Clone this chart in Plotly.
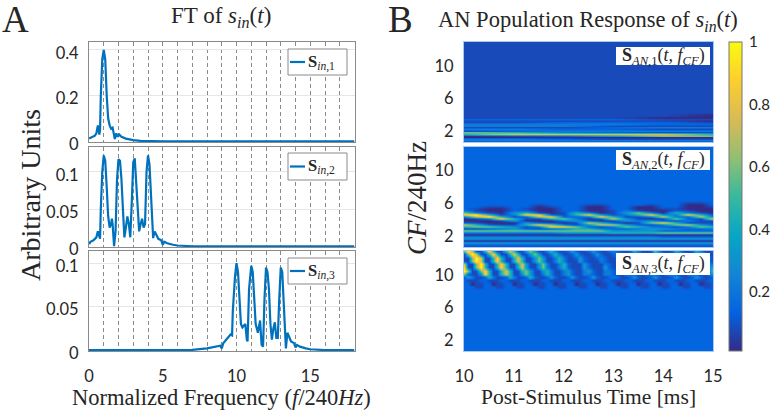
import plotly.graph_objects as go

W, H = 772, 410
SERIF = "Liberation Serif"
SANS = "Lato"
LINE = "#0072BD"
INK = "#262626"

# ---- Panel A spectra ----
S1_X = [0,.2,.4,.5,.6,.7,.75,.8,.9,1,1.1,1.2,1.3,1.4,1.5,1.6,1.7,1.75,1.85,1.95,2.05,2.2,2.5,3,3.5,4,5,18]
S1_Y = [.012,.02,.025,.035,.07,.03,.05,.2,.36,.4,.36,.2,.1,.07,.055,.06,.03,.01,.035,.02,.03,.02,.012,.005,.002,.001,0,0]
S2_X = [0,.1,.3,.5,.6,.7,.75,.8,.9,1,1.1,1.2,1.3,1.4,1.5,1.55,1.6,1.7,1.8,1.9,2,2.1,2.2,2.3,2.4,2.5,2.6,2.7,2.8,2.9,3,3.1,3.2,3.3,3.4,3.5,3.6,3.7,3.8,3.9,4,4.1,4.2,4.3,4.35,4.45,4.55,4.7,4.9,5,5.1,5.3,5.7,6,7,18]
S2_Y = [.003,.006,.008,.012,.02,.012,.01,.05,.1,.122,.115,.08,.04,.025,.03,.037,.03,0,.02,.09,.117,.115,.09,.05,.012,.025,.04,.03,.012,.06,.113,.118,.09,.05,.02,.03,.037,.025,.03,.1,.122,.11,.07,.025,.011,.02,.015,.01,.008,.002,.006,.004,.002,.001,0,0]
S3_X = [0,6,7,8,8.5,8.9,9,9.1,9.3,9.5,9.6,9.7,9.75,9.9,10,10.1,10.2,10.3,10.4,10.5,10.6,10.7,10.75,10.85,11,11.1,11.2,11.3,11.45,11.55,11.6,11.7,11.8,11.9,12,12.1,12.2,12.3,12.4,12.5,12.6,12.7,12.8,12.9,13,13.1,13.2,13.3,13.35,13.45,13.55,13.7,13.9,14,14.1,14.3,14.7,15,16,18]
S3_Y = [0,0,.0003,.002,.004,.005,.002,.008,.012,.016,.018,.017,.045,.085,.1,.09,.06,.03,.026,.028,.03,.012,.01,.07,.097,.09,.06,.03,.02,.03,.034,.006,.004,.06,.095,.09,.07,.03,.012,.025,.032,.014,.014,.06,.095,.09,.05,.01,.002,.02,.015,.01,.008,.003,.006,.004,.002,.001,0,0]

# ---- Panel B response maps, one digit per cell, decoded through LEVELS ----
LEVELS = [.01, .08, .14, .22, .32, .45, .6, .75, .88, 1.0]
AN_T6 = [10, 11, 12, 13, 14, 15]
AN1_CF = [.5,.7,.9,1.1,1.3,1.5,1.7,1.9,2.1,2.3,2.5,2.7,2.9,3.1,3.3,3.5,3.8,4.2,4.6,5,5.5,6,6.5,7.5,9,13]
AN1_ROWS = ["111111","333333","332111","000000","012466","577775","653211","123333",
            "332211","111233","333111","333322","112221","111110","222211","111100",
            "111110","111111","111111","111111","111111","111111","111111","111111","111111","111111"]
AN_T21 = [10+.25*i for i in range(21)]
AN2_CF = [.5+.25*i for i in range(25)] + [7.5,9,11,13]
AN2_COLS = ["1240430361572003863222222","1240430361651017931122222","1240430362620039510012222",
            "1240430363510185100012222","1240430364410451342222222","1240430362154012852122222",
            "1240430361382017810001222","1240430362861058200012222","1240430463830362112222222",
            "1240430465611432552222222","1240430465247203830001222","1240430463175028400001222",
            "1240430542372175111222222","1240430542640441343222222","1240430543521311561002222",
            "1240430544316403830001222","1240420624238217400122222","1240420623165163352122222",
            "1240420622371322831000122","1240420622641117510000122","1240420623521183100012222"]
AN3_T = [10+i/12 for i in range(61)]
AN3_CF = [.5,7,7.6,8,8.4,8.8,9.2,9.6,10,10.4,10.8,11.2,11.6,12,12.4,12.8]
AN3_ROWS = [  # top to bottom
 "69711 58511 57511 46411 35311 24211 24211 23211 25311 26311 25311 25311 2",
 "16971 15851 15751 14641 13531 12421 12421 12321 12421 13531 13531 13531 1",
 "11697 11585 11575 11464 11353 11242 11232 11232 11232 11232 11232 11232 1",
 "11697 11585 11575 11464 11353 11142 11132 11132 11232 11232 11232 11232 1",
 "71169 51158 51157 41146 31135 21114 21113 21113 21113 21113 21113 21113 3",
 "81169 51158 51157 41146 31135 21114 21114 21113 21113 21113 21113 21113 5",
 "96116 85115 75115 64114 53113 42113 42113 32113 32113 32113 32113 32113 6",
 "62114 85115 75114 64113 53113 42113 32113 32113 32113 32113 32113 32113 4",
 "24311 25311 25311 25211 24211 24211 24211 23211 24211 24211 24211 24211 2",
 "21112 21112 21112 21112 21112 21112 21112 21112 21112 21112 21112 21112 2",
 "22011 22011 22011 22011 22011 22011 22011 22011 22011 22011 22011 22011 2",
 "22211 22211 22211 22211 22211 22211 22211 22211 22211 22211 22211 22211 2",
 "22222 22222 22222 22222 22222 22222 22222 22222 22222 22222 22222 22222 2",
 "22222 22222 22222 22222 22222 22222 22222 22222 22222 22222 22222 22222 2",
]
LEG_A = ["<b>S</b><sub><i>in</i>,1</sub>", "<b>S</b><sub><i>in</i>,2</sub>", "<b>S</b><sub><i>in</i>,3</sub>"]
LAB_B = ["<b>S</b><sub><i>AN</i>,1</sub>(<i>t, f</i><sub><i>CF</i></sub>)",
         "<b>S</b><sub><i>AN</i>,2</sub>(<i>t, f</i><sub><i>CF</i></sub>)",
         "<b>S</b><sub><i>AN</i>,3</sub>(<i>t, f</i><sub><i>CF</i></sub>)"]
PARULA = [[0,"#352a87"],[.125,"#0363e1"],[.25,"#1485d4"],[.375,"#06a7c6"],[.5,"#38b99e"],
          [.625,"#92bf73"],[.75,"#d9ba56"],[.875,"#fcce2e"],[1,"#f9fb0e"]]

def dec(s):
    return [LEVELS[int(c)] for c in s.replace(" ", "")]

def px(x): return x / W
def py(y): return 1 - y / H

z1 = [dec(r) for r in AN1_ROWS]
cols2 = [dec(c.ljust(len(AN2_CF), "2")) for c in AN2_COLS]
z2 = [list(r) for r in zip(*cols2)]
z3 = [dec("2"*61), dec("2"*61)] + [dec(r) for r in AN3_ROWS[::-1]]

BANDS = [(42, 142), (146.5, 247), (251, 351)]
fig = go.Figure()

YRANGES = [(-.003, .435), (-.001, .134), (-.001, .114)]
YTICKS = [[0, .2, .4], [0, .05, .1], [0, .05, .1]]
YTEXT = [["0", "0.2", "0.4"], ["0", "0.05", "0.1"], ["0", "0.05", "0.1"]]
tickf = dict(family=SANS, size=16.5, color=INK)
DASH = "4px,3px"
layout = {}
for i, ((xs, ys), (t, b)) in enumerate(zip([(S1_X, S1_Y), (S2_X, S2_Y), (S3_X, S3_Y)], BANDS)):
    n = i + 1
    fig.add_trace(go.Scatter(x=xs, y=ys, mode="lines", line=dict(color=LINE, width=2.2),
                             xaxis=f"x{n}", yaxis=f"y{n}", showlegend=False, name=f"S_in,{n}"))
    layout[f"xaxis{n}"] = dict(domain=[px(89), px(354.5)], range=[0, 18], anchor=f"y{n}",
        tickvals=[0, 5, 10, 15], showticklabels=i == 2, ticks="", tickfont=tickf,
        ticklabelstandoff=10, showgrid=True, gridcolor="#8a8a8a", griddash=DASH, gridwidth=1,
        minor=dict(tickvals=[1,2,3,4,6,7,8,9,11,12,13,14,16,17,18], showgrid=True, gridcolor="#8a8a8a",
                   griddash=DASH, gridwidth=1, ticks=""),
        showline=True, mirror=True, linecolor="#8a8a8a", linewidth=1, zeroline=False)
    layout[f"yaxis{n}"] = dict(domain=[py(b), py(t)], range=list(YRANGES[i]), anchor=f"x{n}",
        tickvals=YTICKS[i], ticktext=YTEXT[i], ticks="", tickfont=tickf, ticklabelstandoff=6,
        ticklabelshift=3, showgrid=True, gridcolor="#e6e6e6", gridwidth=1, showline=True, mirror=True,
        linecolor="#8a8a8a", linewidth=1, zeroline=False)

hm = [(AN_T6, AN1_CF, z1), (AN_T21, AN2_CF, z2), (AN3_T, AN3_CF, z3)]
for i, ((x, y, z), (t, b)) in enumerate(zip(hm, BANDS)):
    n = i + 4
    fig.add_trace(go.Heatmap(x=x, y=y, z=z, coloraxis="coloraxis", zsmooth="best",
                             xaxis=f"x{n}", yaxis=f"y{n}"))
    layout[f"xaxis{n}"] = dict(domain=[px(464), px(713)], range=[10, 15], anchor=f"y{n}",
        tickvals=[10, 11, 12, 13, 14, 15], showticklabels=i == 2, ticks="", tickfont=tickf,
        ticklabelstandoff=10, showgrid=False, zeroline=False, showline=True, mirror=True,
        linecolor="#a8c8f4", linewidth=1)
    layout[f"yaxis{n}"] = dict(domain=[py(b), py(t)], range=[.5, 12.8], anchor=f"x{n}",
        tickvals=[2, 6, 10], ticks="", tickfont=tickf, ticklabelstandoff=6, ticklabelshift=1, showgrid=False,
        zeroline=False, showline=True, mirror=True, linecolor="#a8c8f4", linewidth=1)

shapes, ann = [], []
def text(x, y, s, size, angle=0, family=SERIF, **kw):
    ann.append(dict(xref="paper", yref="paper", x=px(x), y=py(y), text=s, showarrow=False,
                    textangle=angle, font=dict(family=family, size=size, color=kw.pop("color", INK)),
                    xanchor=kw.pop("xanchor", "center"), yanchor="middle", **kw))

for (t1, t2), s in zip([(49, 75), (153, 180), (258, 284)], LEG_A):
    shapes.append(dict(type="rect", xref="paper", yref="paper", x0=px(288), x1=px(347), y0=py(t2), y1=py(t1),
                       fillcolor="white", line=dict(color="#8a8a8a", width=1)))
    m = (t1 + t2) / 2
    shapes.append(dict(type="line", xref="paper", yref="paper", x0=px(290), x1=px(305), y0=py(m), y1=py(m),
                       line=dict(color=LINE, width=2.2)))
    text(306, m, s, 16.5, xanchor="left")

for (t1, t2), s in zip([(47, 65), (150, 170), (253, 275)], LAB_B):
    shapes.append(dict(type="rect", xref="paper", yref="paper", x0=px(616), x1=px(710), y0=py(t2), y1=py(t1),
                       fillcolor="white", line=dict(color="white", width=0)))
    text(663, (t1 + t2) / 2, s, 18)

text(15, 19, "A", 37)
text(401, 19, "B", 37)
text(221, 17, "FT of <i>s</i><sub><i>in</i></sub>(<i>t</i>)", 23)
text(588, 21, "AN Population Response of <i>s</i><sub><i>in</i></sub>(<i>t</i>)", 22.5)
text(30, 195, "Arbitrary Units", 28, angle=-90)
text(417, 198, "<i>CF</i>/240Hz", 27, angle=-90)
text(221, 397, "Normalized Frequency (<i>f</i>/240<i>Hz</i>)", 22.5)
text(588, 397, "Post-Stimulus Time [ms]", 21.5)

fig.update_layout(
    width=W, height=H, margin=dict(l=0, r=0, t=0, b=0, autoexpand=False), autosize=False,
    paper_bgcolor="white", plot_bgcolor="white", showlegend=False,
    shapes=shapes, annotations=ann,
    coloraxis=dict(cmin=.01, cmax=1, colorscale=PARULA,
        colorbar=dict(x=px(729), xanchor="left", xpad=0, ypad=0, thickness=13, thicknessmode="pixels",
                      y=py(351), yanchor="bottom", len=309 / H, lenmode="fraction",
                      tickvals=[.2, .4, .6, .8, 1], ticktext=["0.2", "0.4", "0.6", "0.8", "1"],
                      ticks="outside", ticklen=4, tickcolor="rgba(0,0,0,0)", outlinecolor="#777", outlinewidth=1,
                      tickfont=dict(family=SANS, size=15, color=INK))),
    **layout)
fig.write_html("out.html", config={"displayModeBar": False},
               post_script="document.body.style.margin='0';document.body.style.overflow='hidden';")
